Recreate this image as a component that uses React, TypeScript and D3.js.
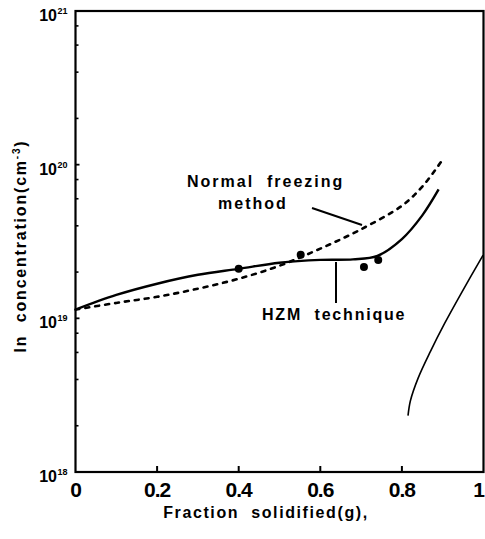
import React from "react";
import * as d3 from "d3";

const xTicks = [0, 0.2, 0.4, 0.6, 0.8, 1];
const xTickLabels = ["0", "0.2", "0.4", "0.6", "0.8", "1"];
const yDecades = [18, 19, 20, 21];
const minorMults = [2, 4, 6, 8];

// HZM technique (solid)
const hzmX = [0, 0.1, 0.2, 0.3, 0.4, 0.5, 0.6, 0.68, 0.74, 0.8, 0.85, 0.89];
const hzmY = [1.14e19, 1.42e19, 1.68e19, 1.92e19, 2.1e19, 2.3e19, 2.4e19, 2.42e19, 2.55e19, 3.28e19, 4.68e19, 6.9e19];

// Normal freezing method (dotted)
const nfX = [0, 0.1, 0.2, 0.3, 0.4, 0.5, 0.6, 0.7, 0.8, 0.85, 0.9];
const nfY = [1.14e19, 1.26e19, 1.38e19, 1.56e19, 1.81e19, 2.2e19, 2.84e19, 3.8e19, 5.4e19, 7.2e19, 1.08e20];

// Third curve (right)
const rcX = [0.815, 0.821, 0.84, 0.87, 0.905, 0.945, 0.999];
const rcY = [2.33e18, 2.92e18, 4.1e18, 6.1e18, 9.3e18, 1.45e19, 2.58e19];

// measured points
const ptX = [0.4, 0.552, 0.707, 0.742];
const ptY = [2.1e19, 2.59e19, 2.16e19, 2.4e19];

const FONT = "'Liberation Sans', Arial, sans-serif";

export default function App() {
  const W = 485, H = 539;
  const x = d3.scaleLinear().domain([0, 1]).range([75.5, 483.5]);
  const y = d3.scaleLog().domain([1e18, 1e21]).range([472, 11]);

  const mk = (xs: number[], ys: number[]) =>
    d3
      .line<[number, number]>()
      .x((d) => x(d[0]))
      .y((d) => y(d[1]))
      .curve(d3.curveCatmullRom.alpha(0.5))(xs.map((v, i) => [v, ys[i]] as [number, number])) || "";

  const hzm = mk(hzmX, hzmY);
  const nf = mk(nfX, nfY);
  const rc = mk(rcX, rcY);

  const minors: number[] = [];
  yDecades.slice(0, -1).forEach((e) => minorMults.forEach((m) => minors.push(m * Math.pow(10, e))));

  const txt = { fontFamily: FONT, fontWeight: "bold" as const, style: { whiteSpace: "pre" as const } };

  return (
    <svg width={W} height={H} style={{ position: "absolute", left: 0, top: 0, background: "#fff" }}>
      <rect width={W} height={H} fill="#fff" />
      <rect x={x(0)} y={y(1e21)} width={x(1) - x(0)} height={y(1e18) - y(1e21)} fill="none" stroke="#000" strokeWidth={2.2} />
      {minors.map((v, i) => (
        <line key={"m" + i} x1={x(0)} x2={x(0) + 3} y1={y(v)} y2={y(v)} stroke="#000" strokeWidth={1.6} />
      ))}
      {yDecades.map((e) => (
        <g key={"d" + e}>
          <line x1={x(0)} x2={x(0) + 4} y1={y(Math.pow(10, e))} y2={y(Math.pow(10, e))} stroke="#000" strokeWidth={1.8} />
          <text x={57} y={y(Math.pow(10, e)) + 10} textAnchor="end" fontSize={16} {...txt}>10</text>
          <text x={57.5} y={y(Math.pow(10, e)) + 3} fontSize={9} {...txt}>{e}</text>
        </g>
      ))}
      {xTicks.map((t, i) => (
        <g key={"x" + i}>
          {i > 0 && i < xTicks.length - 1 && (
            <line x1={x(t)} x2={x(t)} y1={y(1e18)} y2={y(1e18) - 6} stroke="#000" strokeWidth={2} />
          )}
          <text
            x={i === xTicks.length - 1 ? 484 : x(t)}
            y={497}
            textAnchor={i === xTicks.length - 1 ? "end" : "middle"}
            fontSize={21}
            letterSpacing={-1}
            {...txt}
          >
            {xTickLabels[i]}
          </text>
        </g>
      ))}
      <text x={266} y={518} textAnchor="middle" fontSize={16} letterSpacing={1.6} {...txt}>
        {"Fraction  solidified(g),"}
      </text>
      <text transform="translate(26,246) rotate(-90)" textAnchor="middle" fontSize={16} letterSpacing={1.8} {...txt}>
        <tspan>{"In  concentration(cm"}</tspan>
        <tspan dy={-6} fontSize={10}>-3</tspan>
        <tspan dy={6}>)</tspan>
      </text>
      <path d={nf} fill="none" stroke="#000" strokeWidth={2.6} strokeDasharray="4 6" strokeLinecap="round" />
      <path d={hzm} fill="none" stroke="#000" strokeWidth={2.4} />
      <path d={rc} fill="none" stroke="#000" strokeWidth={1.6} />
      {ptX.map((v, i) => (
        <circle key={"p" + i} cx={x(v)} cy={y(ptY[i])} r={4} fill="#000" />
      ))}
      <text x={187} y={187} fontSize={16} letterSpacing={2} {...txt}>{"Normal  freezing"}</text>
      <text x={218} y={209} fontSize={16} letterSpacing={2} {...txt}>method</text>
      <line x1={312} y1={208} x2={362} y2={225} stroke="#000" strokeWidth={2} />
      <line x1={336} y1={262} x2={336} y2={303} stroke="#000" strokeWidth={2} />
      <text x={262} y={320} fontSize={16} letterSpacing={1.8} {...txt}>{"HZM  technique"}</text>
    </svg>
  );
}
